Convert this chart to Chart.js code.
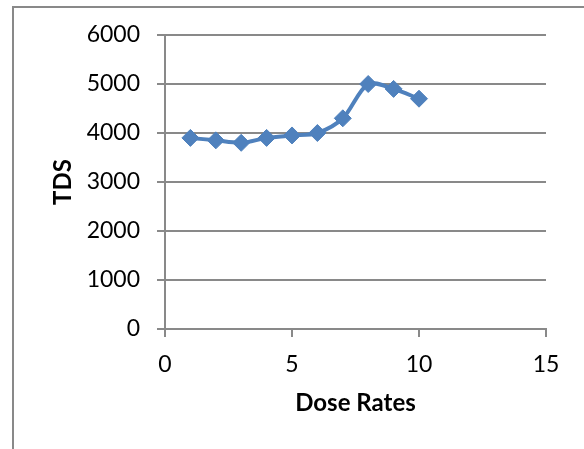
<!DOCTYPE html>
<html>
<head>
<meta charset="utf-8">
<script src="https://cdn.jsdelivr.net/npm/chart.js@4.4.1/dist/chart.umd.min.js"></script>
<style>
  html, body { margin: 0; padding: 0; background: #ffffff; }
  canvas { display: block; }
</style>
</head>
<body>
<canvas id="chart" width="584" height="449"></canvas>
<script>
// Dose rate (x) against total dissolved solids (y)
const doseRates = [1, 2, 3, 4, 5, 6, 7, 8, 9, 10];
const tdsValues = [3900, 3850, 3800, 3900, 3950, 4000, 4300, 5000, 4900, 4700];
const xTickValues = [0, 5, 10, 15];
const yTickValues = [0, 1000, 2000, 3000, 4000, 5000, 6000];

const AXIS_GREY = '#898989';
const SERIES_BLUE = '#4F81BD';
const FONT = 'Lato, "Open Sans", sans-serif';

// Thin grey frame around the chart object
const framePlugin = {
  id: 'frame',
  beforeDraw(chart) {
    const ctx = chart.ctx;
    ctx.save();
    ctx.strokeStyle = AXIS_GREY;
    ctx.lineWidth = 2;
    ctx.beginPath();
    ctx.moveTo(13, 460);
    ctx.lineTo(13, 7);
    ctx.lineTo(600, 7);
    ctx.stroke();
    ctx.restore();
  }
};

new Chart(document.getElementById('chart'), {
  type: 'scatter',
  data: {
    datasets: [{
      label: 'TDS',
      data: doseRates.map((x, i) => ({ x: x, y: tdsValues[i] })),
      showLine: true,
      borderColor: SERIES_BLUE,
      backgroundColor: SERIES_BLUE,
      borderWidth: 4,
      tension: 0.3,
      pointStyle: 'rectRot',
      pointRadius: 8.5,
      pointBorderWidth: 1,
      pointBackgroundColor: SERIES_BLUE,
      pointBorderColor: SERIES_BLUE
    }]
  },
  options: {
    responsive: false,
    animation: false,
    events: [],
    layout: { padding: { top: 35, right: 38, left: 0, bottom: 0 } },
    plugins: {
      legend: { display: false },
      tooltip: { enabled: false }
    },
    scales: {
      x: {
        type: 'linear',
        min: 0,
        max: 15,
        afterBuildTicks(scale) { scale.ticks = xTickValues.map(v => ({ value: v })); },
        afterFit(scale) { scale.height = 120; },
        grid: {
          display: true,
          drawOnChartArea: false,
          drawTicks: true,
          tickLength: 8,
          color: AXIS_GREY,
          lineWidth: 2
        },
        border: { display: true, color: AXIS_GREY, width: 2 },
        ticks: {
          padding: 14,
          color: '#000000',
          font: { family: FONT, size: 23 },
          maxRotation: 0,
          callback: v => String(v)
        },
        title: {
          display: true,
          text: 'Dose Rates',
          color: '#000000',
          font: { family: FONT, size: 24, weight: 'bold' },
          padding: { top: 0, bottom: 31 }
        }
      },
      y: {
        type: 'linear',
        min: 0,
        max: 6000,
        afterBuildTicks(scale) { scale.ticks = yTickValues.map(v => ({ value: v })); },
        afterFit(scale) { scale.width = 165; },
        grid: {
          display: true,
          drawOnChartArea: true,
          drawTicks: true,
          tickLength: 8,
          color: AXIS_GREY,
          lineWidth: 2
        },
        border: { display: true, color: AXIS_GREY, width: 2 },
        ticks: {
          padding: 17,
          color: '#000000',
          font: { family: FONT, size: 23 },
          callback: v => String(v)
        },
        title: {
          display: true,
          text: 'TDS',
          color: '#000000',
          font: { family: FONT, size: 24, weight: 'bold' },
          padding: { top: 49, bottom: 0 }
        }
      }
    }
  },
  plugins: [framePlugin]
});
</script>
</body>
</html>
